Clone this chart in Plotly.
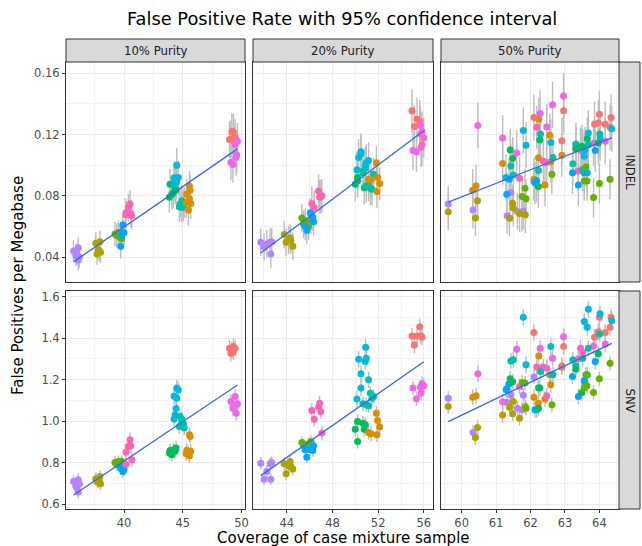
import numpy as np
import plotly.graph_objects as go

# ---------------- data ----------------
sample_colors = ["#F8766D", "#DB8E00", "#AEA200", "#64B200", "#00BD5C", "#00C1A7",
                 "#00BADE", "#00A6FF", "#B385FF", "#EF67EB", "#FF63B6"]
purity_labels = ["10% Purity", "20% Purity", "50% Purity"]
variant_labels = ["INDEL", "SNV"]

# 10% purity: sample index, coverage, INDEL rate, SNV rate
grp_10 = [8]*6 + [2]*6 + [3]*5 + [7]*4 + [10]*6 + [4]*6 + [6]*7 + [5]*6 + [1]*7 + [0]*6 + [9]*6
x_10 = [35.7, 36.1, 36.2, 36.0, 36.1, 35.9,
        37.6, 37.95, 37.8, 38.0, 37.7, 37.9,
        39.23, 39.52, 39.66, 39.38, 39.80,
        39.72, 39.89, 40.0, 39.80,
        40.51, 40.37, 40.57, 40.17, 40.66, 40.17,
        43.92, 44.2, 44.43, 44.07, 43.86, 44.35,
        44.49, 44.63, 44.26, 44.49, 44.43, 44.26, 44.35,
        44.77, 44.92, 45.06, 44.71, 45.12, 44.92,
        45.57, 45.63, 45.34, 45.48, 45.68, 45.29, 45.57,
        48.98, 49.18, 49.32, 49.46, 49.1, 49.32,
        49.1, 49.46, 49.6, 49.27, 49.55, 49.66]
indel_10 = [0.044, 0.046, 0.040, 0.042, 0.038, 0.041,
            0.049, 0.050, 0.045, 0.043, 0.042, 0.044,
            0.055, 0.056, 0.053, 0.054, 0.052,
            0.047, 0.061, 0.056, 0.054,
            0.0746, 0.0724, 0.0685, 0.069, 0.067, 0.0677,
            0.0875, 0.082, 0.084, 0.081, 0.079, 0.085,
            0.100, 0.092, 0.0918, 0.089, 0.091, 0.0875, 0.090,
            0.0746, 0.0767, 0.0735, 0.0728, 0.0757, 0.0724,
            0.0864, 0.0836, 0.081, 0.0707, 0.075, 0.0754, 0.078,
            0.1167, 0.122, 0.1217, 0.118, 0.1173, 0.116,
            0.102, 0.1134, 0.1066, 0.1005, 0.105, 0.1156]
snv_10 = [0.709, 0.717, 0.698, 0.677, 0.658, 0.685,
          0.722, 0.733, 0.706, 0.698, 0.709, 0.717,
          0.800, 0.805, 0.794, 0.790, 0.805,
          0.773, 0.757, 0.765, 0.780,
          0.91, 0.878, 0.881, 0.849, 0.813, 0.79,
          0.858, 0.862, 0.870, 0.838, 0.846, 0.854,
          1.159, 1.15, 1.12, 1.11, 1.06, 1.01, 1.03,
          1.022, 0.998, 0.987, 0.974, 0.966, 1.01,
          0.934, 0.926, 0.859, 0.846, 0.854, 0.842, 0.833,
          1.351, 1.343, 1.335, 1.351, 1.327, 1.359,
          1.094, 1.118, 1.078, 1.062, 1.038, 1.083]
err_indel_10 = [0.012, 0.010, 0.007, 0.008, 0.010, 0.010, 0.011, 0.008, 0.007, 0.012, 0.009]
err_snv_10 = [0.04, 0.035, 0.03, 0.03, 0.035, 0.035, 0.04, 0.03, 0.03, 0.035, 0.035]

# 20% purity
grp_20 = [8]*6 + [2]*6 + [3]*5 + [7]*5 + [10]*6 + [4]*6 + [6]*8 + [5]*6 + [1]*6 + [0]*6 + [9]*6
x_20 = [41.72, 42.01, 42.25, 42.54, 42.60, 42.68,
        43.77, 43.94, 44.29, 44.35, 44.53, 44.15,
        45.32, 45.61, 45.9, 46.11, 45.46,
        45.75, 46.05, 46.28, 46.34, 45.61,
        46.19, 46.4, 46.78, 46.87, 46.98, 47.07,
        49.99, 50.2, 50.2, 50.67, 50.78, 50.87,
        50.29, 50.49, 50.49, 50.87, 50.96, 50.9, 51.16, 50.14,
        50.67, 50.96, 51.16, 51.31, 51.46, 51.6,
        51.16, 51.37, 51.84, 51.95, 52.13, 51.89,
        54.96, 55.17, 55.4, 55.64, 55.75, 55.84,
        55.05, 55.35, 55.7, 55.84, 55.99, 55.75]
indel_20 = [0.0497, 0.0465, 0.0486, 0.0497, 0.042, 0.050,
            0.0547, 0.0497, 0.0525, 0.051, 0.047, 0.051,
            0.0655, 0.0627, 0.060, 0.064, 0.0616,
            0.0573, 0.069, 0.066, 0.063, 0.060,
            0.075, 0.0724, 0.0832, 0.0793, 0.0793, 0.080,
            0.0875, 0.092, 0.0897, 0.095, 0.0853, 0.098,
            0.105, 0.1087, 0.1074, 0.0994, 0.1016, 0.100, 0.103, 0.097,
            0.096, 0.0865, 0.0875, 0.085, 0.0843, 0.094,
            0.0908, 0.0901, 0.1016, 0.0919, 0.088, 0.0828,
            0.1355, 0.1253, 0.130, 0.1286, 0.1204, 0.1134,
            0.1096, 0.1087, 0.126, 0.122, 0.118, 0.1117]
snv_20 = [0.797, 0.72, 0.757, 0.794, 0.72, 0.80,
          0.794, 0.746, 0.805, 0.781, 0.769, 0.785,
          0.897, 0.878, 0.89, 0.902, 0.883,
          0.826, 0.862, 0.858, 0.881, 0.862,
          1.051, 1.009, 1.066, 1.086, 1.046, 0.942,
          0.961, 0.998, 0.902, 0.99, 0.961, 0.982,
          1.298, 1.228, 1.159, 1.287, 1.303, 1.356, 1.199, 1.106,
          1.083, 1.078, 1.074, 1.134, 1.11, 1.118,
          0.945, 0.939, 1.038, 1.003, 0.971, 0.934,
          1.41, 1.367, 1.41, 1.455, 1.41, 1.404,
          1.159, 1.107, 1.163, 1.18, 1.17, 1.134]
err_indel_20 = [0.014, 0.011, 0.009, 0.009, 0.011, 0.011, 0.012, 0.009, 0.009, 0.013, 0.011]
err_snv_20 = [0.04, 0.035, 0.03, 0.03, 0.035, 0.035, 0.04, 0.03, 0.03, 0.035, 0.035]

# 50% purity
grp_50 = [8]*8 + [2]*8 + [1]*10 + [9]*10 + [10]*6 + [0]*9 + [6]*10 + [7]*8 + [5]*10 + [4]*8 + [3]*10
x_50 = [59.61, 60.33, 61.32, 61.43, 61.62, 61.75, 61.79, 62.10,
        59.61, 60.40, 60.46, 61.39, 61.48, 61.50, 61.68, 61.85,
        60.32, 60.42, 61.19, 62.10, 62.23, 62.24, 62.42, 62.56, 62.59, 62.91,
        60.47, 61.19, 61.60, 62.28, 62.47, 62.64, 62.96, 63.45, 63.83, 64.17,
        61.68, 62.18, 62.37, 62.47, 63.39, 63.52,
        62.10, 62.91, 62.96, 63.86, 63.97, 64.00, 64.17, 64.31, 64.34,
        61.29, 61.79, 61.87, 62.59, 63.56, 63.58, 63.65, 63.68, 64.02, 64.36,
        61.31, 61.38, 62.13, 62.18, 63.22, 63.39, 63.56, 63.88,
        61.43, 61.50, 62.23, 62.29, 62.65, 63.23, 63.32, 63.52, 63.68, 64.01,
        61.41, 61.48, 62.23, 62.27, 63.32, 63.49, 63.65, 63.97,
        61.76, 61.84, 61.87, 62.62, 63.56, 63.61, 63.64, 63.83, 64.00, 64.31]
indel_50 = [0.0746, 0.0707, 0.067, 0.0821, 0.0698, 0.0685, 0.070, 0.0893,
            0.0696, 0.0655, 0.0767, 0.0653, 0.0752, 0.072, 0.0685, 0.0677,
            0.0836, 0.0864, 0.1011, 0.0908, 0.1048, 0.130, 0.0871, 0.1195, 0.1022, 0.1065,
            0.126, 0.1178, 0.108, 0.1337, 0.1249, 0.1394, 0.1452, 0.1096, 0.1145, 0.1156,
            0.0914, 0.1247, 0.1026, 0.1016, 0.0962, 0.1096,
            0.1312, 0.116, 0.1355, 0.1268, 0.1275, 0.1333, 0.1268, 0.1247, 0.1312,
            0.092, 0.1227, 0.113, 0.1149, 0.1059, 0.110, 0.095, 0.121, 0.118, 0.1238,
            0.081, 0.0908, 0.0886, 0.0898, 0.0951, 0.0871, 0.0951, 0.1096,
            0.0994, 0.0936, 0.0966, 0.1203, 0.105, 0.1009, 0.1139, 0.0972, 0.1134, 0.1204,
            0.110, 0.1044, 0.086, 0.1165, 0.1108, 0.1124, 0.1173, 0.1145,
            0.0795, 0.0849, 0.078, 0.094, 0.0897, 0.0988, 0.0897, 0.0789, 0.088, 0.0908]
snv_50 = [1.110, 0.945, 1.09, 1.126, 1.062, 1.054, 1.125, 1.212,
          1.070, 0.921, 0.969, 1.067, 1.035, 1.094, 1.014, 1.07,
          1.115, 1.122, 1.029, 1.115, 1.086, 1.314, 1.106, 1.223, 1.175, 1.26,
          1.228, 1.093, 1.346, 1.351, 1.255, 1.303, 1.407, 1.351, 1.362, 1.372,
          1.167, 1.26, 1.26, 1.122, 1.30, 1.33,
          1.427, 1.266, 1.359, 1.404, 1.431, 1.50, 1.427, 1.452, 1.50,
          1.151, 1.50, 1.271, 1.359, 1.48, 1.186, 1.452, 1.539, 1.517, 1.484,
          1.154, 1.18, 1.054, 1.054, 1.215, 1.118, 1.195, 1.287,
          1.29, 1.295, 1.16, 1.239, 1.223, 1.295, 1.266, 1.303, 1.351, 1.42,
          1.204, 1.19, 1.062, 1.159, 1.25, 1.138, 1.223, 1.324,
          1.186, 1.183, 1.062, 1.078, 1.159, 1.223, 1.17, 1.138, 1.204, 1.279]
err_indel_50 = [0.015, 0.014, 0.012, 0.013, 0.014, 0.014, 0.015, 0.014, 0.012, 0.015, 0.014]
err_snv_50 = [0.04, 0.038, 0.035, 0.035, 0.038, 0.038, 0.04, 0.038, 0.035, 0.04, 0.038]

x_tick_start = [40, 44, 60]
x_tick_step = [5, 4, 1]
y_tick_start = [0.04, 0.6]
y_tick_step = [0.04, 0.2]
y_tick_format = [".2f", ".1f"]

# ---------------- layout geometry ----------------
W, H = 642, 546
x_ranges = [[35.06, 50.3], [41.04, 56.8], [59.4, 64.57]]
y_ranges = [[0.0237, 0.1674], [0.576, 1.627]]
col_px = [(66, 245), (253, 433), (441, 619)]
row_px = [(62, 282), (291, 509)]
x_domains = [[a / W, b / W] for a, b in col_px]
y_domains = [[1 - b / H, 1 - a / H] for a, b in row_px]

FONT = "DejaVu Sans"
fig = go.Figure()

columns = [
    (x_10, grp_10, indel_10, snv_10, err_indel_10, err_snv_10),
    (x_20, grp_20, indel_20, snv_20, err_indel_20, err_snv_20),
    (x_50, grp_50, indel_50, snv_50, err_indel_50, err_snv_50),
]

layout_axes = {}
for c, (xs, gs, yi, ys, ei, es) in enumerate(columns):
    for r, (yv, ev) in enumerate([(yi, ei), (ys, es)]):
        k = r * 3 + c + 1
        xa = "x" if k == 1 else f"x{k}"
        ya = "y" if k == 1 else f"y{k}"
        ex, ey = [], []
        for xv, yy, g in zip(xs, yv, gs):
            e = ev[g]
            ex += [xv, xv, None]
            ey += [yy - e, yy + e, None]
        fig.add_trace(go.Scatter(x=ex, y=ey, mode="lines",
                                 line=dict(color="#BDBDBD", width=1.4),
                                 xaxis=xa, yaxis=ya, hoverinfo="skip", showlegend=False))
        fig.add_trace(go.Scatter(x=xs, y=yv, mode="markers",
                                 marker=dict(color=[sample_colors[g] for g in gs], size=7,
                                             line=dict(width=0)),
                                 xaxis=xa, yaxis=ya, showlegend=False))
        coef = np.polyfit(xs, yv, 1)
        xl = np.array([min(xs), max(xs)])
        fig.add_trace(go.Scatter(x=xl, y=np.polyval(coef, xl), mode="lines",
                                 line=dict(color="#3366FF", width=1.3),
                                 xaxis=xa, yaxis=ya, hoverinfo="skip", showlegend=False))

        common = dict(showgrid=True, gridcolor="#EBEBEB", gridwidth=1, zeroline=False,
                      showline=True, linecolor="#333333", linewidth=1, mirror=True,
                      ticklen=3, tickcolor="#333333", automargin=False,
                      tickfont=dict(family=FONT, size=11.5, color="#4D4D4D"))
        xkey = "xaxis" if k == 1 else f"xaxis{k}"
        ykey = "yaxis" if k == 1 else f"yaxis{k}"
        layout_axes[xkey] = dict(common, domain=x_domains[c], range=x_ranges[c],
                                 anchor=ya, tickmode="linear", tick0=x_tick_start[c],
                                 dtick=x_tick_step[c],
                                 ticks="outside" if r == 1 else "",
                                 showticklabels=(r == 1),
                                 minor=dict(dtick=x_tick_step[c] / 2, tick0=x_tick_start[c],
                                            showgrid=True, gridcolor="#F2F2F2", gridwidth=0.6))
        layout_axes[ykey] = dict(common, domain=y_domains[r], range=y_ranges[r],
                                 anchor=xa, tickmode="linear", tick0=y_tick_start[r],
                                 dtick=y_tick_step[r], tickformat=y_tick_format[r],
                                 ticks="outside" if c == 0 else "",
                                 showticklabels=(c == 0),
                                 minor=dict(dtick=y_tick_step[r] / 2, tick0=y_tick_start[r],
                                            showgrid=True, gridcolor="#F2F2F2", gridwidth=0.6))

shapes = []
annotations = []
# top strips
for c, (a, b) in enumerate(col_px):
    shapes.append(dict(type="rect", xref="paper", yref="paper",
                       x0=a / W, x1=b / W, y0=1 - 62 / H, y1=1 - 39 / H,
                       fillcolor="#D9D9D9", line=dict(color="#333333", width=1), layer="above"))
    annotations.append(dict(text=purity_labels[c], xref="paper", yref="paper",
                            x=(a + b) / 2 / W, y=1 - 50.5 / H, showarrow=False,
                            xanchor="center", yanchor="middle",
                            font=dict(family=FONT, size=11.7, color="#1A1A1A")))
# right strips
for r, (a, b) in enumerate(row_px):
    shapes.append(dict(type="rect", xref="paper", yref="paper",
                       x0=619 / W, x1=640 / W, y0=1 - b / H, y1=1 - a / H,
                       fillcolor="#D9D9D9", line=dict(color="#333333", width=1), layer="above"))
    annotations.append(dict(text=variant_labels[r], xref="paper", yref="paper",
                            x=629.5 / W, y=1 - (a + b) / 2 / H, showarrow=False,
                            textangle=90, xanchor="center", yanchor="middle",
                            font=dict(family=FONT, size=11.7, color="#1A1A1A")))
# titles
annotations.append(dict(text="False Positive Rate with 95% confidence interval",
                        xref="paper", yref="paper", x=342 / W, y=1 - 19 / H,
                        showarrow=False, xanchor="center", yanchor="middle",
                        font=dict(family=FONT, size=17.8, color="#000000")))
annotations.append(dict(text="Coverage of case mixture sample",
                        xref="paper", yref="paper", x=343 / W, y=1 - 538 / H,
                        showarrow=False, xanchor="center", yanchor="middle",
                        font=dict(family=FONT, size=15, color="#000000")))
annotations.append(dict(text="False Positives per Megabase",
                        xref="paper", yref="paper", x=18 / W, y=1 - 286 / H,
                        showarrow=False, textangle=-90, xanchor="center", yanchor="middle",
                        font=dict(family=FONT, size=15, color="#000000")))

fig.update_layout(width=W, height=H, margin=dict(l=0, r=0, t=0, b=0),
                  paper_bgcolor="white", plot_bgcolor="white",
                  font=dict(family=FONT), showlegend=False,
                  shapes=shapes, annotations=annotations, **layout_axes)

fig.write_html("out.html", config={"displayModeBar": False},
               post_script="document.body.style.margin='0px';document.body.style.padding='0px';document.body.style.overflow='hidden';")
